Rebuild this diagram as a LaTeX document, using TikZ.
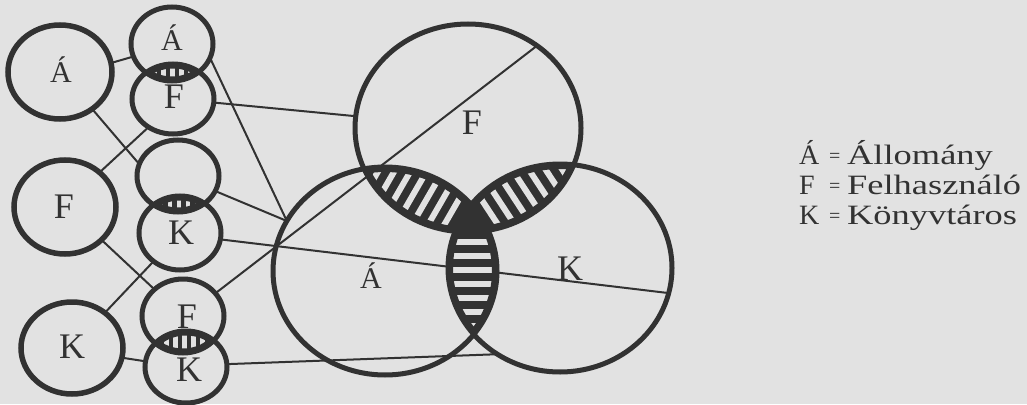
\documentclass[tikz,border=0pt]{standalone}
\usepackage{fontspec}
\setmainfont{Liberation Serif}
\newfontfamily\legfont[FakeStretch=1.3]{Liberation Serif}
\usetikzlibrary{shapes.geometric}
\definecolor{ink}{RGB}{50,50,50}
\definecolor{paper}{RGB}{226,226,226}
\pgfdeclarelayer{back}
\pgfdeclarelayer{lines}
\pgfdeclarelayer{hatch}
\pgfsetlayers{back,lines,hatch,main}
\newcommand\vFe{(468,128) ellipse [x radius=113pt, y radius=104pt]}
\newcommand\vAe{(385,271) ellipse [x radius=112pt, y radius=104pt]}
\newcommand\vKe{(560,268) ellipse [x radius=112pt, y radius=104pt]}
\newcommand\sAe{(172,44) ellipse [x radius=41pt, y radius=37pt]}
\newcommand\sFe{(173,99) ellipse [x radius=41pt, y radius=35pt]}
\newcommand\sEe{(178,176) ellipse [x radius=41pt, y radius=36pt]}
\newcommand\sKe{(180,233) ellipse [x radius=41pt, y radius=37pt]}
\newcommand\sFFe{(183,316) ellipse [x radius=41pt, y radius=37pt]}
\newcommand\sKKe{(186,367) ellipse [x radius=41pt, y radius=36pt]}
\tikzset{
  ring/.style={draw=ink, ellipse, inner sep=0pt, outer sep=0pt},
  bigring/.style 2 args={ring, line width=5.5pt, minimum width=#1pt, minimum height=#2pt},
  smallring/.style 2 args={ring, line width=5pt, minimum width=#1pt, minimum height=#2pt},
  vennring/.style={ring, line width=5pt, minimum width=224pt, minimum height=208pt},
  link/.style={draw=ink, line width=2pt},
  bigletter/.style={text=ink, anchor=base, inner sep=0pt, font=\fontsize{36}{36}\selectfont},
  accletter/.style={text=ink, anchor=base, inner sep=0pt, font=\fontsize{30}{30}\selectfont},
  legend/.style={text=ink, anchor=base west, inner sep=0pt, font=\legfont\fontsize{28}{28}\selectfont},
  legkey/.style={text=ink, anchor=base west, inner sep=0pt, font=\fontsize{28}{28}\selectfont},
  eqsign/.style={text=ink, anchor=base west, inner sep=0pt, font=\fontsize{20}{20}\selectfont},
}
\begin{document}
\begin{tikzpicture}[x=1pt, y=-1pt]
\begin{pgfonlayer}{back}
  \fill[paper] (0,0) rectangle (1027,404);
\end{pgfonlayer}
\useasboundingbox (0,0) rectangle (1027,404);

% left big circles
\node[bigring={104}{94}] (bA) at (60,72) {};
\node[bigring={102}{94}] (bF) at (65,207) {};
\node[bigring={102}{92}] (bK) at (72,348) {};
% small circles
\node[smallring={82}{74}] (sA) at (172,44) {};
\node[smallring={82}{70}] (sF) at (173,99) {};
\node[smallring={82}{72}] (sE) at (178,176) {};
\node[smallring={82}{74}] (sK) at (180,233) {};
\node[smallring={82}{74}] (sFF) at (183,316) {};
\node[smallring={82}{72}] (sKK) at (186,367) {};
% Venn circles
\node[vennring, minimum width=226pt] (vF) at (468,128) {};
\node[vennring] (vA) at (385,271) {};
\node[vennring] (vK) at (560,268) {};

% letters
\node[accletter] (tbA) at (61,82) {Á};
\node[bigletter] (tbF) at (64,218) {F};
\node[bigletter] (tbK) at (72,358) {K};
\node[accletter] (tsA) at (172,51) {Á};
\node[bigletter] (tsF) at (174,108) {F};
\node[bigletter] (tsK) at (181,244) {K};
\node[bigletter] (tsFF) at (187,328) {F};
\node[bigletter] (tsKK) at (189,381) {K};
\node[bigletter] (tvF) at (472,134) {F};
\node[accletter] (tvA) at (371,288) {Á};
\node[bigletter] (tvK) at (570,280) {K};

% legend
\node[legkey] (k1) at (799,164) {Á};
\node[eqsign] (e1) at (829,162) {=};
\node[legend] (w1) at (847,164) {Állomány};
\node[legkey] (k2) at (799,194) {F};
\node[eqsign] (e2) at (829,192) {=};
\node[legend] (w2) at (847,194) {Felhasználó};
\node[legkey] (k3) at (799,224) {K};
\node[eqsign] (e3) at (829,222) {=};
\node[legend] (w3) at (847,224) {Könyvtáros};

% connectors
\begin{pgfonlayer}{lines}
  \draw[link] (bA.10.9) -- (sA.198.4);
  \draw[link] (bA.-49.9) -- (sE.163.3);
  \draw[link] (sF.229.2) -- (bF.45);
  \draw[link] (sF.-5.7) -- (vF.174.9);
  \draw[link] (sA.-20.2) -- (vA.153.4);
  \draw[link] (sE.-22.3) -- (vA.153.4);
  \draw[link] (sK.-9.9) -- (vK.-13.8);
  \draw[link] (bF.-42.6) -- (sFF.137.1);
  \draw[link] (sK.227) -- (bK.47.4);
  \draw[link] (sFF.35.7) -- (vF.50);
  \draw[link] (bK.-11.1) -- (sKK.172.9);
  \draw[link] (sKK.4.2) -- (vK.234.7);
\end{pgfonlayer}

% hatching
\begin{pgfonlayer}{hatch}
  % F and A
  \begin{scope}
    \clip \vFe; \clip \vAe;
    \fill[ink] (0,0) rectangle (1027,404);
    \begin{scope}[shift={(426.5,199.5)}, rotate=60]
      \foreach \k in {-9,...,9} \fill[paper] (-200pt,\k*14pt-3pt) rectangle (200pt,\k*14pt+3pt);
    \end{scope}
    \draw[ink, line width=10pt] \vFe;
    \draw[ink, line width=10pt] \vAe;
  \end{scope}
  % F and K
  \begin{scope}
    \clip \vFe; \clip \vKe;
    \fill[ink] (0,0) rectangle (1027,404);
    \begin{scope}[shift={(514,198)}, rotate=-56.7]
      \foreach \k in {-9,...,9} \fill[paper] (-200pt,\k*14pt-3pt) rectangle (200pt,\k*14pt+3pt);
    \end{scope}
    \draw[ink, line width=10pt] \vFe;
    \draw[ink, line width=10pt] \vKe;
  \end{scope}
  % A and K
  \begin{scope}
    \clip \vAe; \clip \vKe;
    \fill[ink] (0,0) rectangle (1027,404);
    \begin{scope}[shift={(472.5,269.5)}]
      \foreach \k in {-9,...,9} \fill[paper] (-200pt,\k*14pt-3pt) rectangle (200pt,\k*14pt+3pt);
    \end{scope}
    \draw[ink, line width=10pt] \vAe;
    \draw[ink, line width=10pt] \vKe;
  \end{scope}
  % triple
  \begin{scope}
    \clip \vFe; \clip \vAe; \clip \vKe;
    \fill[ink] (0,0) rectangle (1027,404);
  \end{scope}
  % small lenses
  \begin{scope}
    \clip \sAe; \clip \sFe;
    \fill[ink] (0,0) rectangle (1027,404);
    \foreach \k in {-3,...,3} \fill[paper] (172.5+\k*9-2.3,50) rectangle (172.5+\k*9+2.3,95);
    \draw[ink, line width=9pt] \sAe;
    \draw[ink, line width=9pt] \sFe;
  \end{scope}
  \begin{scope}
    \clip \sEe; \clip \sKe;
    \fill[ink] (0,0) rectangle (1027,404);
    \foreach \k in {-3,...,3} \fill[paper] (179+\k*9-2.3,185) rectangle (179+\k*9+2.3,225);
    \draw[ink, line width=9pt] \sEe;
    \draw[ink, line width=9pt] \sKe;
  \end{scope}
  \begin{scope}
    \clip \sFFe; \clip \sKKe;
    \fill[ink] (0,0) rectangle (1027,404);
    \foreach \k in {-3,...,3} \fill[paper] (184.5+\k*9-2.3,320) rectangle (184.5+\k*9+2.3,365);
    \draw[ink, line width=9pt] \sFFe;
    \draw[ink, line width=9pt] \sKKe;
  \end{scope}
\end{pgfonlayer}
\end{tikzpicture}
\end{document}
